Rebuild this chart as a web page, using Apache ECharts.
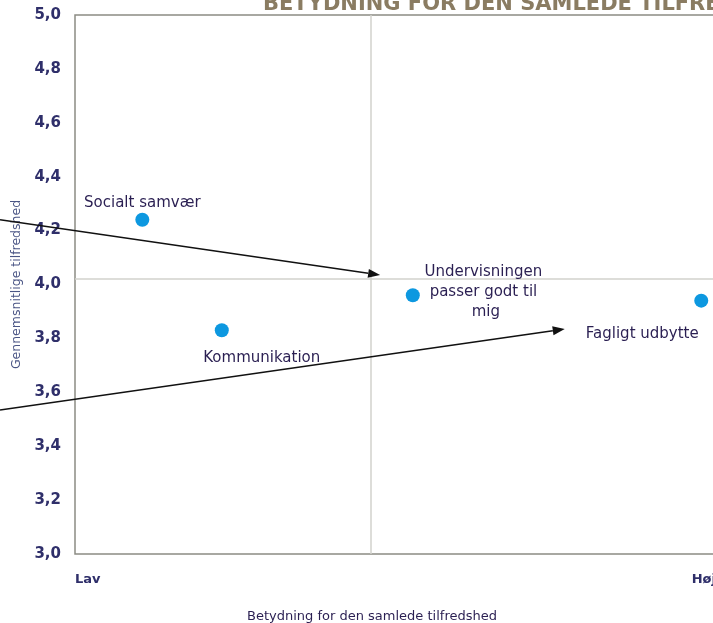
<!DOCTYPE html>
<html>
<head>
<meta charset="utf-8">
<script src="https://cdn.jsdelivr.net/npm/echarts@6/dist/echarts.min.js"></script>
<style>
html,body{margin:0;padding:0;background:#fff;}
#chart{width:713px;height:623px;}
</style>
</head>
<body>
<div id="chart"></div>
<script>
// ---- data ----
const itemNames = ['Socialt samvær', 'Kommunikation', 'Undervisningen passer godt til mig', 'Fagligt udbytte'];
const importance = [1.05, 2.29, 5.27, 9.77];      // Betydning (Lav = 0 ... Høj = 10)
const satisfaction = [4.24, 3.83, 3.96, 3.94];    // Gennemsnitlige tilfredshed
const xTickLabels = ['Lav', 'Høj'];
const yTicks = [3.0, 3.2, 3.4, 3.6, 3.8, 4.0, 4.2, 4.4, 4.6, 4.8, 5.0];
const refImportance = 4.62;
const refSatisfaction = 4.02;
const arrowFrom = [[-1.17, 4.24], [-1.17, 3.534]];
const arrowTo = [[4.76, 4.035], [7.64, 3.835]];

// ---- presentation ----
const labelColor = '#2a1f52';
const labelFont = 'DejaVu Sans';
const labelPlacement = [
  { position: 'top', distance: 10 },
  { position: 'inside', offset: [40, 28] },
  { position: 'inside', offset: [73, -3], width: 140, overflow: 'break', lineHeight: 20 },
  { position: 'inside', offset: [-59, 33] }
];

const scatterData = itemNames.map((n, i) => ({
  name: n,
  value: [importance[i], satisfaction[i]],
  label: Object.assign({
    show: true, formatter: '{b}', color: labelColor, fontFamily: labelFont,
    fontSize: 15, align: 'center', verticalAlign: 'middle'
  }, labelPlacement[i])
}));

const arrowData = arrowFrom.map((p, i) => [p[0], p[1], arrowTo[i][0], arrowTo[i][1]]);

const chart = echarts.init(document.getElementById('chart'));
chart.setOption({
  animation: false,
  backgroundColor: '#ffffff',
  title: {
    text: 'BETYDNING FOR DEN SAMLEDE TILFREDSHED',
    left: 258, top: -11,
    textStyle: { color: '#8a7c62', fontFamily: labelFont, fontSize: 21, fontWeight: 'bold' }
  },
  grid: {
    left: 75, top: 15, width: 641, height: 539,
    outerBoundsMode: 'none', containLabel: false,
    show: true, borderColor: '#8c8c84', borderWidth: 1.5, backgroundColor: 'transparent'
  },
  xAxis: {
    type: 'value', min: 0, max: 10, interval: 10,
    axisLine: { show: false }, axisTick: { show: false }, splitLine: { show: false },
    axisLabel: {
      formatter: v => (v === 0 ? xTickLabels[0] : xTickLabels[1]),
      alignMinLabel: 'left', alignMaxLabel: 'right',
      margin: 19, color: '#2f2f6a', fontFamily: labelFont, fontSize: 13, fontWeight: 'bold'
    },
    name: 'Betydning for den samlede tilfredshed',
    nameLocation: 'middle', nameGap: 56,
    nameTextStyle: { color: labelColor, fontFamily: labelFont, fontSize: 13, padding: [0, 47, 0, 0] }
  },
  yAxis: {
    type: 'value', min: yTicks[0], max: yTicks[yTicks.length - 1], interval: 0.2,
    axisLine: { show: false }, axisTick: { show: false }, splitLine: { show: false },
    axisLabel: {
      formatter: v => v.toFixed(1).replace('.', ','),
      margin: 14, color: '#2f2f6a', fontFamily: labelFont, fontSize: 15, fontWeight: 'bold'
    },
    name: 'Gennemsnitlige tilfredshed',
    nameLocation: 'middle', nameGap: 42,
    nameTextStyle: { color: '#4a5585', fontFamily: labelFont, fontSize: 12.5 }
  },
  series: [
    {
      type: 'scatter',
      symbolSize: 14,
      itemStyle: { color: '#0d98e0', opacity: 1 },
      data: scatterData,
      z: 5,
      markLine: {
        silent: true, symbol: 'none', label: { show: false },
        lineStyle: { color: '#d2d2cc', width: 1.5, type: 'solid' },
        data: [{ xAxis: refImportance }, { yAxis: refSatisfaction }],
        z: 1
      }
    },
    {
      type: 'custom',
      clip: false,
      z: 4,
      silent: true,
      encode: { x: [0, 2], y: [1, 3] },
      data: arrowData,
      renderItem: function (params, api) {
        const p1 = api.coord([api.value(0), api.value(1)]);
        const p2 = api.coord([api.value(2), api.value(3)]);
        const ang = Math.atan2(p2[1] - p1[1], p2[0] - p1[0]);
        const L = 12, W = 4.5;
        const base = [p2[0] - L * Math.cos(ang), p2[1] - L * Math.sin(ang)];
        const a = [base[0] + W * Math.sin(ang), base[1] - W * Math.cos(ang)];
        const b = [base[0] - W * Math.sin(ang), base[1] + W * Math.cos(ang)];
        return {
          type: 'group',
          children: [
            { type: 'line', shape: { x1: p1[0], y1: p1[1], x2: base[0], y2: base[1] },
              style: { stroke: '#111', lineWidth: 1.5 } },
            { type: 'polygon', shape: { points: [p2, a, b] }, style: { fill: '#111' } }
          ]
        };
      }
    }
  ]
});
</script>
</body>
</html>
